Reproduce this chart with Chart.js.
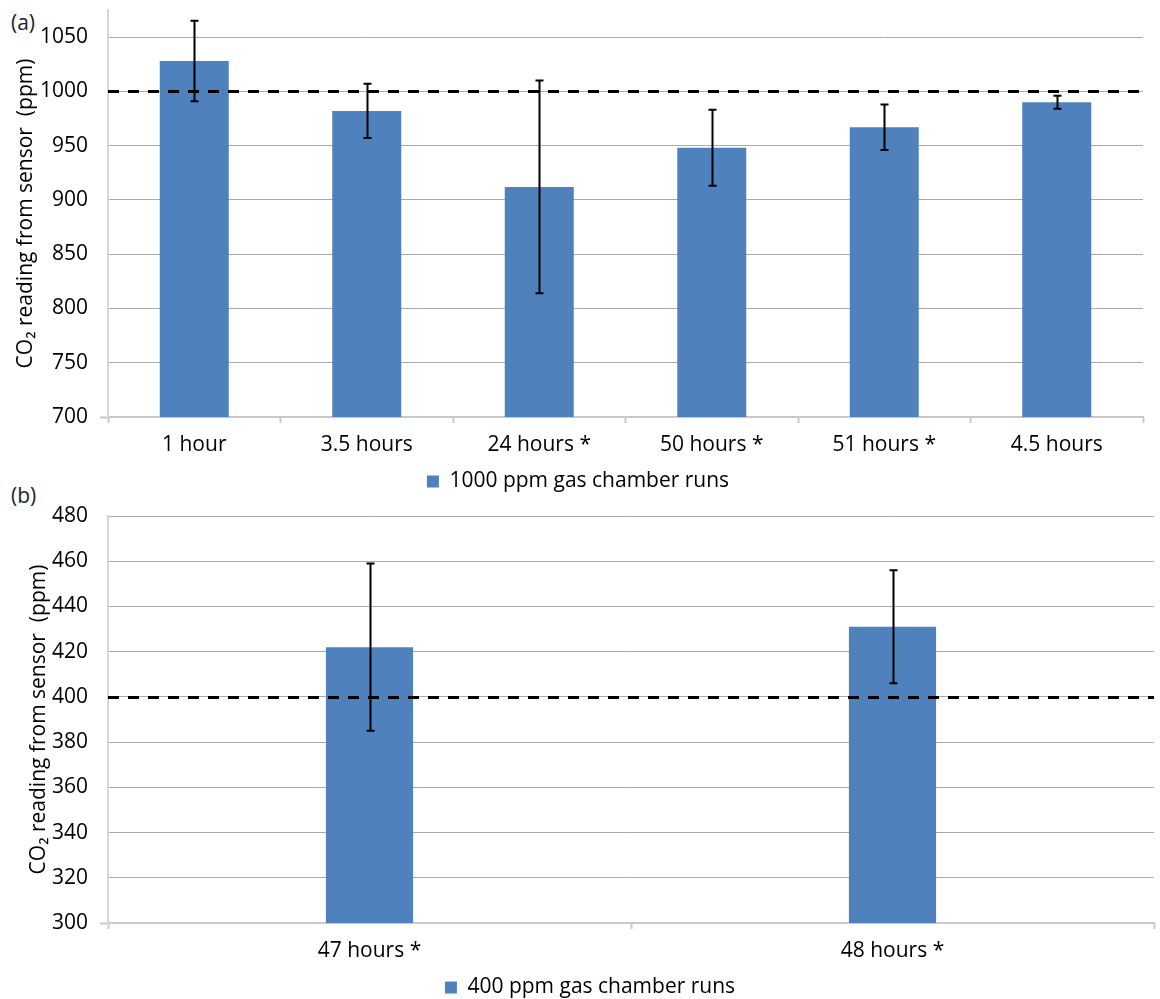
<!DOCTYPE html>
<html>
<head>
<meta charset="utf-8">
<script src="https://cdn.jsdelivr.net/npm/chart.js@4.4.1/dist/chart.umd.min.js"></script>
<style>
  html, body { margin: 0; padding: 0; background: #fff; }
  body { width: 1160px; height: 999px; overflow: hidden; position: relative; font-family: "Open Sans", sans-serif; }
  .panel { position: absolute; }
  .tag { position: absolute; font-family: "Open Sans", sans-serif; font-size: 21px; color: #1c2232; line-height: 1; }
  canvas { display: block; }
</style>
</head>
<body>
<div class="tag" style="left:11px; top:12px;">(a)</div>
<div class="tag" style="left:11px; top:485px;">(b)</div>
<div class="panel" style="left:13px; top:0px;"><canvas id="chartA" width="1147" height="502"></canvas></div>
<div class="panel" style="left:26px; top:506px;"><canvas id="chartB" width="1134" height="502"></canvas></div>
<script>
// Panel (a): 1000 ppm runs
const categoriesA = ['1 hour', '3.5 hours', '24 hours *', '50 hours *', '51 hours *', '4.5 hours'];
const valuesA = [1028, 982, 912, 948, 967, 990];
const errorsA = [37, 25, 98, 35, 21, 6];
const seriesLabelA = '1000 ppm gas chamber runs';
const referenceA = 1000;
const yTicksA = [700, 750, 800, 850, 900, 950, 1000, 1050];

// Panel (b): 400 ppm runs
const categoriesB = ['47 hours *', '48 hours *'];
const valuesB = [422, 431];
const errorsB = [37, 25];
const seriesLabelB = '400 ppm gas chamber runs';
const referenceB = 400;
const yTicksB = [300, 320, 340, 360, 380, 400, 420, 440, 460, 480];

const yTitle = 'CO\u2082 reading from sensor  (ppm)';
const BAR = '#4f81bd';
const FONT = '"Open Sans", sans-serif';

// Dashed target level plus symmetric error bars, drawn over the bars
const overlayPlugin = {
  id: 'overlay',
  afterDatasetsDraw(chart, args, opts) {
    const ctx = chart.ctx;
    const area = chart.chartArea;
    const y = chart.scales.y;
    ctx.save();
    // target level
    const ry = Math.round(y.getPixelForValue(opts.level)) + 0.5;
    ctx.strokeStyle = '#000';
    ctx.lineWidth = 3;
    ctx.setLineDash([11, 9]);
    ctx.beginPath();
    ctx.moveTo(area.left, ry);
    ctx.lineTo(area.right, ry);
    ctx.stroke();
    ctx.setLineDash([]);
    // error bars
    chart.data.datasets.forEach((ds, di) => {
      const meta = chart.getDatasetMeta(di);
      const errs = ds.errorBars || [];
      meta.data.forEach((bar, i) => {
        const v = ds.data[i], e = errs[i];
        if (e == null) return;
        const x = Math.round(bar.x) + 0.5;
        const yTop = y.getPixelForValue(v + e);
        const yBot = y.getPixelForValue(v - e);
        ctx.strokeStyle = '#000';
        ctx.lineWidth = 2;
        ctx.beginPath();
        ctx.moveTo(x, yTop);
        ctx.lineTo(x, yBot);
        ctx.moveTo(x - 4, yTop);
        ctx.lineTo(x + 4, yTop);
        ctx.moveTo(x - 4, yBot);
        ctx.lineTo(x + 4, yBot);
        ctx.stroke();
      });
    });
    ctx.restore();
  }
};

function makeChart(canvasId, cats, vals, errs, label, level, ticks, yMax, axisWidth, padRight, barPct, titlePad) {
  const yMin = ticks[0];
  return new Chart(document.getElementById(canvasId), {
    type: 'bar',
    data: {
      labels: cats,
      datasets: [{
        label: label,
        data: vals,
        errorBars: errs,
        backgroundColor: BAR,
        borderWidth: 0,
        categoryPercentage: 1.0,
        barPercentage: barPct
      }]
    },
    options: {
      responsive: false,
      devicePixelRatio: 1,
      animation: false,
      layout: { padding: { top: 10, right: padRight, bottom: 0, left: 0 } },
      plugins: {
        legend: {
          position: 'bottom',
          labels: {
            boxWidth: 12, boxHeight: 12, padding: 10, color: '#000',
            font: { family: FONT, size: 21 }
          }
        },
        tooltip: { enabled: false },
        overlay: { level: level }
      },
      scales: {
        x: {
          type: 'category',
          offset: true,
          grid: {
            offset: true,
            drawOnChartArea: false,
            drawTicks: true,
            tickLength: 6,
            tickColor: '#c9c9c9',
            tickWidth: 2
          },
          border: { display: true, color: '#c9c9c9', width: 2 },
          ticks: { color: '#000', padding: 9, font: { family: FONT, size: 21 }, maxRotation: 0 },
          afterFit(scale) { scale.height = 44; }
        },
        y: {
          min: yMin,
          max: yMax,
          ticks: {
            stepSize: ticks[1] - ticks[0],
            color: '#000',
            padding: 0,
            font: { family: FONT, size: 21, lineHeight: 0.8 },
            callback: v => String(v)
          },
          afterBuildTicks(scale) {
            scale.ticks = ticks.map(v => ({ value: v }));
          },
          grid: {
            color: ctx => (ctx.tick && ctx.tick.value === yMin) ? 'rgba(0,0,0,0)' : '#a9a9a9',
            lineWidth: 1,
            drawTicks: true,
            tickLength: 20,
            tickWidth: 2,
            tickColor: ctx => (ctx.tick && ctx.tick.value === yMin) ? '#c9c9c9' : 'rgba(0,0,0,0)',
            tickBorderDash: [0, 12, 8, 0]
          },
          border: { display: true, color: '#d6d6d6', width: 2 },
          title: {
            display: true,
            text: yTitle,
            color: '#000',
            padding: { top: titlePad, bottom: 0 },
            font: { family: FONT, size: 21, lineHeight: 1.2 }
          },
          afterFit(scale) { scale.width = axisWidth; }
        }
      }
    },
    plugins: [overlayPlugin]
  });
}

makeChart('chartA', categoriesA, valuesA, errorsA, seriesLabelA, referenceA, yTicksA, 1075, 95, 17, 0.4, 0);
makeChart('chartB', categoriesB, valuesB, errorsB, seriesLabelB, referenceB, yTicksB, 480, 82, 6, 1 / 6, 0);
</script>
</body>
</html>
